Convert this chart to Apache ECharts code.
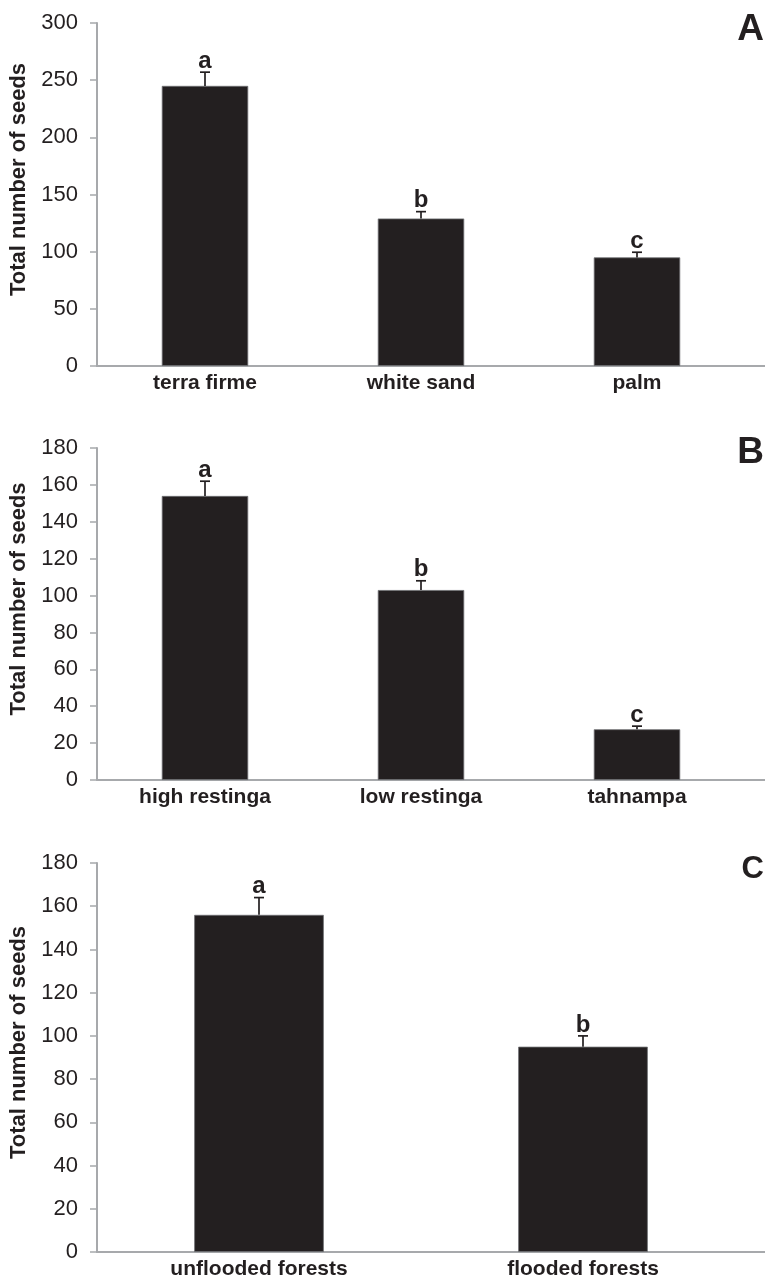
<!DOCTYPE html>
<html>
<head>
<meta charset="utf-8">
<script src="https://cdn.jsdelivr.net/npm/echarts@6/dist/echarts.min.js"></script>
<style>
html,body{margin:0;padding:0;background:#fff;}
#c{width:765px;height:1282px;}
</style>
</head>
<body>
<div id="c"></div>
<script>
// ---- data ----
const catsA = ['terra firme', 'white sand', 'palm'];
const meansA = [245, 129, 95];
const errTopA = [257, 135, 99.5];
const lettersA = ['a', 'b', 'c'];

const catsB = ['high restinga', 'low restinga', 'tahnampa'];
const meansB = [154, 103, 27.5];
const errTopB = [162, 108, 29.2];
const lettersB = ['a', 'b', 'c'];

const catsC = ['unflooded forests', 'flooded forests'];
const meansC = [156, 95];
const errTopC = [164, 100];
const lettersC = ['a', 'b'];

const yMaxA = 300, yIntA = 50;
const yMaxB = 180, yIntB = 20;
const yMaxC = 180, yIntC = 20;
const panelLabels = ['A', 'B', 'C'];
const yTitle = 'Total number of seeds';

// ---- style ----
const INK = '#231f20';
const AXIS = '#a7a9ac';
const FONT = '"Liberation Sans", Arial, Helvetica, sans-serif';

const panels = [
  {cats: catsA, means: meansA, err: errTopA, letters: lettersA, max: yMaxA, interval: yIntA, top: 23, height: 343},
  {cats: catsB, means: meansB, err: errTopB, letters: lettersB, max: yMaxB, interval: yIntB, top: 448, height: 332},
  {cats: catsC, means: meansC, err: errTopC, letters: lettersC, max: yMaxC, interval: yIntC, top: 863, height: 389}
];

const grids = [], xAxes = [], yAxes = [], series = [];
panels.forEach((p, i) => {
  grids.push({left: 97, right: 20, top: p.top, height: p.height, containLabel: false});
  xAxes.push({
    type: 'category', gridIndex: i, data: p.cats,
    axisLine: {lineStyle: {color: AXIS, width: 2}},
    axisTick: {show: false},
    axisLabel: {color: INK, fontFamily: FONT, fontWeight: 'bold', fontSize: 21, margin: 7}
  });
  yAxes.push({
    type: 'value', gridIndex: i, min: 0, max: p.max, interval: p.interval,
    name: yTitle, nameLocation: 'middle', nameRotate: 90, nameGap: 61,
    nameTextStyle: {color: INK, fontFamily: FONT, fontWeight: 'bold', fontSize: 22, padding: [0, 0, 0, 30]},
    axisLine: {show: true, lineStyle: {color: AXIS, width: 2}},
    axisTick: {show: true, inside: false, length: 7, lineStyle: {color: AXIS, width: 1.5}},
    splitLine: {show: false},
    axisLabel: {color: INK, fontFamily: FONT, fontSize: 22, margin: 19}
  });
  series.push({
    type: 'bar', xAxisIndex: i, yAxisIndex: i, data: p.means, barWidth: '40%',
    itemStyle: {color: INK, borderColor: '#6d6e71', borderWidth: 0.8},
    silent: true, animation: false
  });
  series.push({
    type: 'custom', xAxisIndex: i, yAxisIndex: i,
    data: p.means.map((m, k) => [k, m, p.err[k]]),
    animation: false, silent: true, z: 5,
    renderItem: function (params, api) {
      const k = api.value(0);
      const base = api.coord([k, api.value(1)]);
      const top = api.coord([k, api.value(2)]);
      const cw = 5;
      return {
        type: 'group',
        children: [
          {type: 'line', shape: {x1: base[0], y1: base[1], x2: top[0], y2: top[1]}, style: {stroke: INK, lineWidth: 1.7}},
          {type: 'line', shape: {x1: top[0] - cw, y1: top[1], x2: top[0] + cw, y2: top[1]}, style: {stroke: INK, lineWidth: 1.7}},
          {type: 'text', x: top[0], y: top[1] + 1, style: {text: p.letters[params.dataIndex], fill: INK, font: 'bold 24px ' + FONT, align: 'center', verticalAlign: 'bottom'}}
        ]
      };
    }
  });
});

const chart = echarts.init(document.getElementById('c'), null, {renderer: 'canvas'});
chart.setOption({
  animation: false,
  backgroundColor: '#fff',
  grid: grids, xAxis: xAxes, yAxis: yAxes, series: series
});

// panel letters and x-axis line extension to the right edge
const W = 765;
const graphics = [];
const panelSizes = [37, 37, 31];
const panelOffsets = [7, 5, 6];
panels.forEach((p, i) => {
  const y0 = chart.convertToPixel({yAxisIndex: i}, 0);
  const yTop = chart.convertToPixel({yAxisIndex: i}, p.max);
  graphics.push({type: 'line', shape: {x1: W - 21, y1: y0, x2: W, y2: y0}, style: {stroke: AXIS, lineWidth: 2}, silent: true});
  graphics.push({type: 'text', x: 764, y: yTop + panelOffsets[i], style: {text: panelLabels[i], fill: INK, font: 'bold ' + panelSizes[i] + 'px ' + FONT, align: 'right', verticalAlign: 'middle'}, silent: true});
});
chart.setOption({graphic: graphics});
</script>
</body>
</html>
